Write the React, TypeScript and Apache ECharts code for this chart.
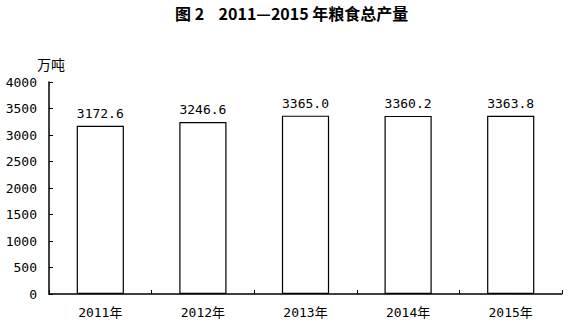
import React, { useEffect, useRef } from "react";
import * as echarts from "echarts";

const categories = ["2011年", "2012年", "2013年", "2014年", "2015年"];
const values = [3172.6, 3246.6, 3365.0, 3360.2, 3363.8];
const titleText = "图 2\u00a0\u00a0\u00a0 2011—2015 年粮食总产量";
const unitText = "万吨";

const FONT = "'Noto Sans CJK SC', 'DejaVu Sans', sans-serif";
const MONO = "'DejaVu Sans Mono', 'Noto Sans CJK SC', monospace";

export default function App() {
  const ref = useRef<HTMLDivElement>(null);
  useEffect(() => {
    const chart = echarts.init(ref.current!, null, { renderer: "svg" });
    chart.setOption({
      animation: false,
      backgroundColor: "#ffffff",
      title: {
        text: titleText,
        left: 170,
        top: 1,
        padding: [2, 5, 2, 5],
        textStyle: { fontSize: 16, fontWeight: "bold", color: "#000", fontFamily: FONT, lineHeight: 20 },
      },
      graphic: [
        {
          type: "text",
          left: 37,
          top: 57,
          style: { text: unitText, fontSize: 14, fill: "#000", fontFamily: FONT },
        },
      ],
      grid: { left: 49, right: 10, top: 82, bottom: 33, containLabel: false },
      xAxis: {
        type: "category",
        data: categories,
        axisLine: { lineStyle: { color: "#000", width: 1.5 } },
        axisTick: { show: true, inside: true, length: 4, alignWithLabel: false, lineStyle: { color: "#000" } },
        axisLabel: { color: "#000", fontSize: 13, margin: 12, fontFamily: MONO },
      },
      yAxis: {
        type: "value",
        min: 0,
        max: 4000,
        interval: 500,
        axisLine: { show: true, lineStyle: { color: "#000", width: 1.5 } },
        axisTick: { show: true, inside: true, length: 4, lineStyle: { color: "#000" } },
        axisLabel: {
          color: "#000",
          fontSize: 13,
          margin: 12,
          fontFamily: MONO,
          formatter: (v: number) => String(v),
        },
        splitLine: { show: false },
      },
      series: [
        {
          type: "bar",
          data: values,
          barWidth: "46%",
          itemStyle: { color: "#ffffff", borderColor: "#000", borderWidth: 1.2 },
          label: {
            show: true,
            position: "top",
            distance: 6,
            color: "#000",
            fontSize: 13,
            fontFamily: MONO,
            formatter: (p: any) => Number(p.value).toFixed(1),
          },
        },
      ],
    });
    return () => chart.dispose();
  }, []);
  return <div ref={ref} style={{ width: 572, height: 327, position: "absolute", left: 0, top: 0 }} />;
}
